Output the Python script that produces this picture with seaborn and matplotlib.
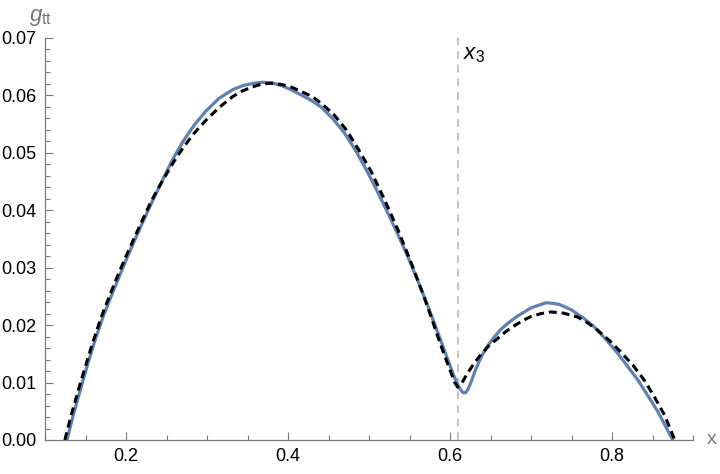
import matplotlib
matplotlib.use("Agg")
import matplotlib.pyplot as plt
import seaborn as sns
import pandas as pd
from matplotlib.ticker import MultipleLocator, FormatStrFormatter

# ---- data ----
blue_x = [0.1272, 0.135, 0.1444, 0.1525, 0.1609, 0.172, 0.1836, 0.1938, 0.2021, 0.2123,
          0.2206, 0.233, 0.2453, 0.257, 0.27, 0.284, 0.2988, 0.315, 0.3317, 0.344,
          0.3564, 0.3688, 0.38, 0.392, 0.404, 0.416, 0.428, 0.4407, 0.455, 0.4695,
          0.484, 0.4984, 0.511, 0.523, 0.535, 0.5477, 0.560, 0.5725, 0.585, 0.597,
          0.6053, 0.611, 0.615, 0.617, 0.6195, 0.6225, 0.626, 0.632, 0.639, 0.6465,
          0.655, 0.663, 0.673, 0.6836, 0.700, 0.709, 0.7185, 0.727, 0.735, 0.7494,
          0.765, 0.778, 0.792, 0.807, 0.8317, 0.8564, 0.875]
blue_y = [0.0, 0.0044, 0.0091, 0.0131, 0.0170, 0.0216, 0.0257, 0.0292, 0.0320, 0.0353,
          0.0379, 0.0417, 0.0453, 0.0487, 0.0519, 0.0548, 0.0573, 0.0595, 0.0610, 0.0617,
          0.0621, 0.0623, 0.0622, 0.0617, 0.0610, 0.0601, 0.0592, 0.0580, 0.0560, 0.0535,
          0.0503, 0.0466, 0.0431, 0.0396, 0.0360, 0.0320, 0.0278, 0.0234, 0.0187, 0.0141,
          0.0110, 0.0092, 0.0084, 0.0082, 0.0083, 0.0089, 0.0101, 0.0124, 0.0146, 0.0164,
          0.0180, 0.0193, 0.0205, 0.0216, 0.0230, 0.02345, 0.0239, 0.0238, 0.0236, 0.0227,
          0.0212, 0.0197, 0.0176, 0.0151, 0.0105, 0.0050, 0.0]

dash_x = [0.1245, 0.1325, 0.142, 0.1505, 0.1585, 0.1695, 0.181, 0.1915, 0.200, 0.2105,
          0.219, 0.2315, 0.2445, 0.257, 0.27, 0.284, 0.2988, 0.315, 0.3317, 0.344,
          0.3564, 0.366, 0.375, 0.385, 0.395, 0.405, 0.416, 0.43, 0.443, 0.457,
          0.472, 0.487, 0.5025, 0.519, 0.5354, 0.552, 0.568, 0.5765, 0.585, 0.593,
          0.600, 0.6055, 0.6095, 0.614, 0.622, 0.630, 0.6383, 0.648, 0.659, 0.669,
          0.6795, 0.690, 0.700, 0.712, 0.7247, 0.740, 0.7577, 0.770, 0.7824, 0.797,
          0.811, 0.826, 0.8399, 0.852, 0.865, 0.8775]
dash_y = [0.0, 0.0044, 0.0091, 0.0131, 0.0168, 0.0214, 0.0256, 0.0292, 0.0320, 0.0353,
          0.0379, 0.0417, 0.0450, 0.0480, 0.0508, 0.0534, 0.0557, 0.0579, 0.0598, 0.0608,
          0.0615, 0.0619, 0.0621, 0.0621, 0.0618, 0.0614, 0.0607, 0.0598, 0.0584, 0.0566,
          0.0540, 0.0506, 0.0468, 0.0419, 0.0367, 0.0309, 0.0249, 0.0215, 0.0180, 0.0148,
          0.0122, 0.0101, 0.0092, 0.0098, 0.0117, 0.0134, 0.0149, 0.0164, 0.0177, 0.0189,
          0.0199, 0.0208, 0.0215, 0.0220, 0.0223, 0.0221, 0.0214, 0.0204, 0.0191, 0.0173,
          0.0153, 0.0130, 0.0104, 0.0076, 0.0043, 0.0]

x3 = 0.61
x_ticks = [0.2, 0.4, 0.6, 0.8]
y_ticks = [0.00, 0.01, 0.02, 0.03, 0.04, 0.05, 0.06, 0.07]

sns.set_theme(style="white")
plt.rcParams["font.family"] = ["Liberation Sans", "DejaVu Sans"]
plt.rcParams["mathtext.fontset"] = "custom"
plt.rcParams["mathtext.it"] = "Liberation Sans:italic"
plt.rcParams["mathtext.rm"] = "Liberation Sans"

fig = plt.figure(figsize=(7.2, 4.74), dpi=100)
ax = fig.add_axes([45 / 720, 1 - 440 / 474, (693 - 45) / 720, (440 - 38) / 474])

df_blue = pd.DataFrame({"x": blue_x, "y": blue_y})
df_dash = pd.DataFrame({"x": dash_x, "y": dash_y})

axis_gray = "#7a7a7a"
ax.axvline(x3, ymin=0, ymax=1.008, color="#c4c4c4", lw=1.4, ls=(0, (4, 3)), clip_on=False, zorder=1)
sns.lineplot(data=df_blue, x="x", y="y", ax=ax, sort=False, color="#5E81B5", lw=2.3, zorder=3)
sns.lineplot(data=df_dash, x="x", y="y", ax=ax, sort=False, color="black", lw=2.2,
             linestyle=(0, (2.6, 1.6)), zorder=4)

ax.set_xlim(0.1, 0.9)
ax.set_ylim(0, 0.07)
ax.set_xticks(x_ticks)
ax.set_yticks(y_ticks)
ax.xaxis.set_minor_locator(MultipleLocator(0.05))
ax.yaxis.set_minor_locator(MultipleLocator(0.002))
ax.yaxis.set_major_formatter(FormatStrFormatter("%.2f"))
ax.xaxis.set_major_formatter(FormatStrFormatter("%.1f"))
ax.set_xlabel("")
ax.set_ylabel("")

for s in ["top", "right"]:
    ax.spines[s].set_visible(False)
for s in ["left", "bottom"]:
    ax.spines[s].set_color(axis_gray)
    ax.spines[s].set_linewidth(0.9)

ax.tick_params(which="both", direction="in", color=axis_gray, width=0.8,
               labelsize=13, labelcolor="black", left=True, bottom=True)
ax.tick_params(which="major", length=5.5, pad=6)
ax.tick_params(which="minor", length=3.5)

ax.annotate(r"$g_{\mathrm{tt}}$", xy=(0, 1), xycoords="axes fraction",
            xytext=(-3, 7), textcoords="offset points", ha="center", va="bottom",
            fontsize=16, color="#777777", annotation_clip=False)
ax.annotate("x", xy=(1, 0), xycoords="axes fraction", xytext=(10, 0),
            textcoords="offset points", ha="left", va="center",
            fontsize=14, color="#777777", annotation_clip=False)
ax.text(x3 + 0.006, 0.0672, r"$x_3$", fontsize=16, color="black", ha="left", va="center")

fig.savefig("out.png", dpi=100)
